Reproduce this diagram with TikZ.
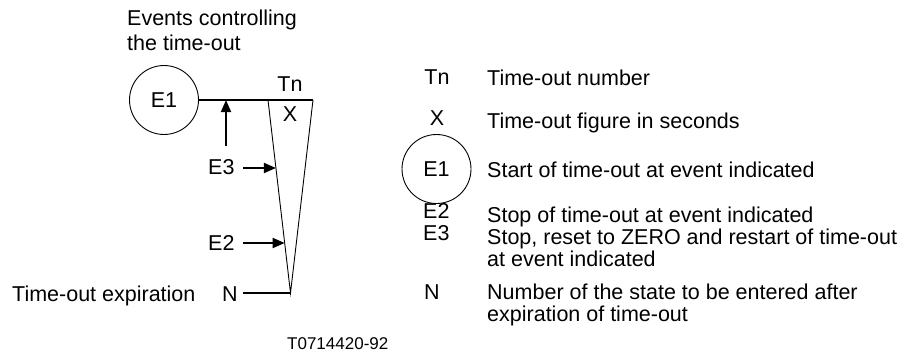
\documentclass[tikz,border=0pt]{standalone}
\usepackage{fontspec}
\setmainfont{Liberation Sans}
\usetikzlibrary{arrows.meta,calc}
\begin{document}
\begin{tikzpicture}[x=1pt,y=-1pt,
  txt/.style={inner sep=0pt,anchor=base west,font=\fontsize{21.5}{26}\selectfont},
  ctxt/.style={inner sep=0pt,anchor=base,font=\fontsize{21.5}{26}\selectfont},
  evcirc/.style={circle,draw,line width=0.9pt,minimum size=69pt,inner sep=0pt,font=\fontsize{21.5}{26}\selectfont},
  thick line/.style={line width=2pt},
  thin line/.style={line width=0.9pt},
  arr/.style={line width=1.8pt,-{Triangle[length=12pt,width=10pt]}}]
\useasboundingbox (0,0) rectangle (913,356);
% ---- left figure ----
\node[txt] (ev1) at (127,25) {Events controlling};
\node[txt] (ev2) at (127,50) {the time-out};
\node[evcirc] (c1) at (164,100) {E1};
\coordinate (tl) at (268,100);
\coordinate (tr) at (313,100);
\coordinate (tip) at (290.5,293);
\draw[thick line] (c1.east) -- (tr);
\draw[thin line] (tl) -- (tip) -- (tr);
\node[ctxt] (tn) at (290,91) {Tn};
\node[ctxt] (x) at (290,121) {X};
\coordinate (up0) at (226,146);
\coordinate (up1) at (226,100);
\draw[arr] (up0) -- (up1);
\node[txt] (e3) at (208,174) {E3};
\coordinate (s3) at (243,168);
\coordinate (a3) at ($(tl)!0.352!(tip)$);
\draw[arr] (s3) -- (s3 -| a3);
\node[txt] (e2) at (208,250) {E2};
\coordinate (s2) at (243,243);
\coordinate (a2) at ($(tl)!0.741!(tip)$);
\draw[arr] (s2) -- (s2 -| a2);
\node[txt] (n) at (222,301) {N};
\coordinate (sn) at (243,293);
\draw[thick line] (sn) -- (tip);
\node[txt] (exp) at (12,301) {Time-out expiration};
\node[inner sep=0pt,anchor=base west,font=\fontsize{17}{20}\selectfont] (ref) at (287,349) {T0714420-92};
% ---- legend ----
\node[ctxt] (ltn) at (437,84) {Tn};
\node[txt] (dtn) at (487,85) {Time-out number};
\node[ctxt] (lx) at (437,125.5) {X};
\node[txt] (dx) at (487,128) {Time-out figure in seconds};
\node[evcirc] (lc) at (436.5,169) {E1};
\node[txt] (dc) at (487,177) {Start of time-out at event indicated};
\node[txt] (le2) at (423,218) {E2};
\node[txt] (de2) at (487,222) {Stop of time-out at event indicated};
\node[txt] (le3) at (423,240) {E3};
\node[txt] (de3a) at (487,244) {Stop, reset to ZERO and restart of time-out};
\node[txt] (de3b) at (487,266) {at event indicated};
\node[txt] (ln) at (424,299) {N};
\node[txt] (dna) at (487,299) {Number of the state to be entered after};
\node[txt] (dnb) at (487,321) {expiration of time-out};
\end{tikzpicture}
\end{document}
